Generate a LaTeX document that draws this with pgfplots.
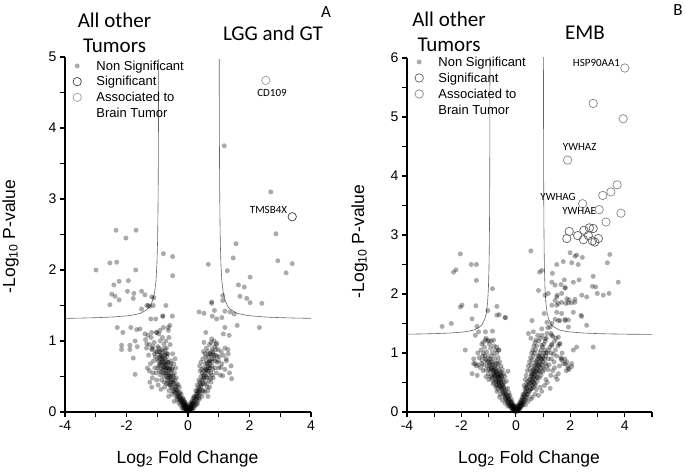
\documentclass[border=0pt]{standalone}
\usepackage{pgfplots}
\pgfplotsset{compat=1.18}
\usepackage{fontspec}
\setmainfont{Liberation Sans}
\newfontfamily\calib{Carlito}
\pgfplotsset{
  legend image code/.code={\path (-5pt,0pt) (5pt,0pt); \draw[#1] plot coordinates {(0pt,0pt)};},
  volc/.style={
    scale only axis, anchor=south west,
    axis x line*=bottom, axis y line*=left,
    axis line style={line width=1.1pt, black},
    tick style={line width=1.1pt, black},
    tick align=outside, major tick length=5pt,
    ticklabel style={font=\fontsize{14}{16}\selectfont},
    /pgf/number format/assume math mode=true,
    legend style={draw=none, fill=none, inner sep=0pt, outer sep=0pt, anchor=north west,
      font=\fontsize{13}{15.7}\selectfont,
      nodes={inner sep=0pt, text height=10pt, text depth=1.5pt},
      row sep=4.2pt, column sep=14pt},
    legend cell align=left,
  },
  nsig/.style={only marks, mark=*, mark size=2.5pt, mark options={draw opacity=0, line width=0pt, fill=black, fill opacity=0.33}},
  sig/.style={only marks, mark=o, mark size=4.2pt, color=black!75, mark options={line width=0.7pt}},
  sigB/.style={only marks, mark=o, mark size=4.2pt, color=black!62, mark options={line width=0.7pt}},
  assoc/.style={only marks, mark=o, mark size=4.2pt, color=black!38, mark options={line width=0.7pt}},
  assocB/.style={only marks, mark=o, mark size=4.2pt, color=black!48, mark options={line width=0.7pt}},
  thr/.style={forget plot, black!60, line width=0.6pt},
}
\begin{document}
\begin{tikzpicture}
\path[use as bounding box] (0pt,0pt) rectangle (685pt,471pt);
% ================= Panel A =================
\begin{axis}[volc, at={(65pt,59pt)}, width=246pt, height=355pt,
  xmin=-4, xmax=4, ymin=0, ymax=5,
  xtick={-4,-3,-2,-1,0,1,2,3,4}, xticklabels={-4,,-2,,0,,2,,4},
  ytick={0,0.5,1,1.5,2,2.5,3,3.5,4,4.5,5}, yticklabels={0,,1,,2,,3,,4,,5},
  legend style={at={(0.0285,0.991)}}]
\addplot[thr] coordinates {(1.015,4.97)(1.02,4.05)(1.025,3.50)(1.03,3.13)(1.04,2.68)(1.05,2.40)(1.07,2.09)(1.1,1.85)(1.15,1.67)(1.2,1.58)(1.3,1.48)(1.4,1.44)(1.6,1.39)(1.8,1.37)(2.0,1.356)(2.5,1.338)(3.0,1.329)(3.5,1.323)(4.0,1.319)};
\addplot[thr] coordinates {(-0.955,4.97)(-0.96,4.05)(-0.965,3.50)(-0.97,3.13)(-0.98,2.68)(-0.99,2.40)(-1.01,2.09)(-1.04,1.85)(-1.09,1.67)(-1.14,1.58)(-1.24,1.48)(-1.34,1.44)(-1.54,1.39)(-1.74,1.37)(-1.94,1.356)(-2.44,1.338)(-2.94,1.329)(-3.44,1.323)(-4.0,1.319)};
\addplot[nsig] coordinates {
(1.18,3.75)(2.69,3.10)(2.86,2.51)(-2.34,2.56)(-1.69,2.56)(-2.02,2.45)
(-2.99,2.00)(-2.54,2.10)(-2.32,2.11)(-1.70,2.00)(-2.41,1.79)(-2.24,1.84)(-1.94,1.85)(-2.48,1.66)(-2.37,1.63)(-2.54,1.51)(-2.24,1.58)(-1.97,1.70)(-1.76,1.67)(-1.78,1.60)(-1.51,1.70)(-1.40,1.65)(-1.18,1.62)(-1.13,1.50)(-1.34,1.50)(-1.29,1.50)(-1.11,1.61)(-1.51,1.45)(-1.24,1.49)
(-0.80,2.23)(-0.50,2.19)(-0.50,1.92)(-0.72,1.50)(-0.82,1.35)(-1.21,1.31)(-1.05,1.31)(-0.51,1.35)(-2.30,1.19)(-2.12,1.12)(-1.86,1.19)(-1.67,1.16)(-1.56,1.17)(-1.72,1.00)(-2.16,0.94)(-2.16,0.88)(-1.89,0.94)(-1.89,0.88)(-1.65,0.92)(-1.78,0.76)(-1.72,0.53)(-1.34,0.96)(-1.40,1.10)(-1.18,1.12)(-1.02,1.12)(-1.16,0.89)(-0.91,1.15)(-0.80,1.19)(-0.59,1.22)(-0.64,1.15)(-0.64,1.19)(-0.82,1.35)
(0.66,2.08)(1.28,1.99)(1.47,2.17)(1.56,2.37)(2.02,1.90)(1.64,1.79)(1.83,1.76)(1.69,1.63)(1.91,1.60)(2.02,1.54)(2.40,1.53)(1.13,1.64)(1.13,1.57)(1.37,1.41)(0.77,1.55)(0.77,1.53)(0.36,1.41)(0.52,1.39)(0.86,1.43)(0.79,1.35)(0.93,1.31)(1.10,1.33)(1.20,1.42)(1.60,1.22)(2.32,1.19)(1.20,1.19)(1.15,1.10)(1.34,1.08)(0.58,1.12)(0.77,1.03)(0.52,0.98)(2.92,2.13)(3.19,1.96)(3.39,2.09)(1.50,1.38)(0.93,0.97)(1.20,0.90)(1.31,0.82)(1.40,0.65)(1.13,0.51)(0.99,0.72)(1.24,0.75)(1.07,0.63)
(-0.02,0.01)(-0.05,0.03)(-0.08,0.05)(-0.1,0.02)(-0.12,0.08)(-0.15,0.04)(-0.06,0.1)(-0.18,0.12)(-0.2,0.06)(-0.22,0.15)(-0.25,0.1)(-0.14,0.18)(-0.28,0.2)(-0.3,0.13)(-0.33,0.24)(-0.26,0.28)(-0.35,0.17)(-0.38,0.3)(-0.4,0.22)(-0.42,0.35)(-0.36,0.4)(-0.45,0.28)(-0.48,0.42)(-0.5,0.33)(-0.47,0.5)(-0.52,0.25)(-0.55,0.45)(-0.58,0.38)(-0.6,0.55)(-0.53,0.6)(-0.62,0.3)(-0.65,0.48)(-0.68,0.62)(-0.7,0.4)(-0.72,0.55)(-0.66,0.7)(-0.75,0.68)(-0.78,0.5)(-0.8,0.75)(-0.74,0.82)(-0.82,0.6)(-0.85,0.88)(-0.88,0.7)(-0.9,0.52)(-0.93,0.8)(-0.95,0.65)(-0.98,0.92)(-1.0,0.75)(-1.02,0.45)(-1.05,0.85)(-1.08,0.62)(-1.1,0.98)(-1.12,0.72)(-1.15,0.55)(-1.18,0.88)(-1.2,1.05)(-1.22,0.68)(-1.25,0.95)(-1.28,0.8)(-1.3,1.08)(-1.32,0.62)(-1.35,0.9)(-1.38,1.02)(-1.24,0.42)(-1.18,0.35)(-0.97,0.38)(-0.88,0.32)(-0.63,0.22)(-0.45,0.15)(-0.56,0.72)(-0.5,0.82)(-0.58,0.95)(-0.62,1.05)(-0.7,0.9)(-0.72,1.0)(-0.78,0.95)(-0.83,1.05)(-0.9,1.0)(-0.95,1.1)(-1.02,1.12)(-0.68,0.78)(-0.86,0.45)(-0.93,0.58)(-1.04,0.55)(-0.76,0.35)(-0.64,0.62)(-0.81,0.85)(-0.7,0.72)(-0.73,0.6)(-0.61,0.45)(-0.44,0.55)(-0.4,0.62)(-0.42,0.75)(-0.46,0.68)(-0.38,0.48)(-0.32,0.38)(-0.28,0.35)(-0.22,0.25)(-0.18,0.2)(-0.1,0.14)(-0.07,0.06)(-0.03,0.04)(-0.04,0.02)(-0.09,0.09)(-0.13,0.11)(-0.16,0.07)(-0.24,0.18)(-0.29,0.26)(-0.34,0.31)(-0.39,0.36)(-0.43,0.45)(-0.49,0.52)(-0.54,0.58)(-0.59,0.65)(-0.64,0.7)(-0.69,0.82)(-0.74,0.88)(-0.79,0.64)(-0.84,0.7)(-0.89,0.78)(-0.94,0.85)(-0.99,0.62)(-1.06,0.78)(-1.14,0.92)(-1.16,0.48)(-1.26,0.58)(-0.52,0.4)(-0.57,0.5)(-0.67,0.55)(-0.77,0.42)(-0.87,0.56)(-0.92,0.68)(-0.96,0.72)(-1.09,0.82)(-0.6,0.38)(-0.65,0.4)(-0.7,0.5)(-0.8,0.55)(-0.85,0.62)(-0.9,0.66)(-0.83,0.78)(-0.75,0.75)(-0.55,0.35)(-0.48,0.3)(-0.41,0.27)(-0.35,0.22)(-0.3,0.18)(-0.25,0.16)(-0.2,0.13)(-0.15,0.1)(-0.11,0.06)(-0.06,0.04)(-0.01,0.02)(-0.03,0.08)(-0.08,0.12)(-0.12,0.15)(-0.04,0.07)(-0.07,0.02)
(-0.55,0.5)(-0.6,0.6)(-0.65,0.6)(-0.7,0.62)(-0.75,0.55)(-0.8,0.68)(-0.85,0.75)(-0.9,0.85)(-0.62,0.52)(-0.68,0.45)(-0.72,0.68)(-0.78,0.62)(-0.82,0.72)(-0.88,0.8)(-0.5,0.45)(-0.45,0.4)(-0.4,0.32)(-0.35,0.28)(-0.3,0.22)(-0.25,0.22)(-0.2,0.18)(-0.16,0.14)(-0.12,0.1)(-0.08,0.08)(-0.05,0.05)(-0.02,0.03)(-0.06,0.07)(-0.1,0.11)(-0.14,0.09)(-0.18,0.16)(-0.57,0.42)(-0.63,0.5)(-0.73,0.66)(-0.95,0.9)(-1.0,0.85)(-0.92,0.75)(-0.76,0.8)(-0.66,0.82)(-0.56,0.68)(-0.51,0.62)
(0.02,0.01)(0.04,0.03)(0.06,0.06)(0.08,0.02)(0.1,0.08)(0.12,0.05)(0.14,0.12)(0.16,0.08)(0.18,0.15)(0.2,0.1)(0.22,0.2)(0.24,0.14)(0.26,0.25)(0.28,0.18)(0.3,0.3)(0.32,0.22)(0.34,0.35)(0.36,0.27)(0.38,0.42)(0.4,0.32)(0.42,0.5)(0.44,0.38)(0.46,0.55)(0.48,0.3)(0.5,0.45)(0.52,0.62)(0.54,0.4)(0.56,0.68)(0.58,0.5)(0.6,0.72)(0.62,0.35)(0.64,0.58)(0.66,0.78)(0.68,0.45)(0.7,0.65)(0.72,0.82)(0.74,0.55)(0.76,0.7)(0.78,0.88)(0.8,0.6)(0.82,0.48)(0.84,0.75)(0.86,0.92)(0.88,0.62)(0.9,0.8)(0.92,0.55)(0.95,0.7)(0.98,0.88)(1.0,0.62)(1.02,0.78)(1.05,0.52)(1.08,0.85)(1.1,0.68)(1.15,0.8)(1.2,0.6)(1.25,0.72)(1.3,0.88)(1.35,0.55)(1.42,0.47)(0.3,0.15)(0.35,0.2)(0.4,0.25)(0.45,0.22)(0.5,0.3)(0.55,0.28)(0.6,0.4)(0.65,0.3)(0.7,0.35)(0.75,0.42)(0.65,0.22)(0.45,0.6)(0.4,0.58)(0.38,0.65)(0.42,0.7)(0.48,0.75)(0.5,0.85)(0.55,0.82)(0.6,0.9)(0.58,0.78)(0.64,0.85)(0.7,0.95)(0.75,0.98)(0.85,1.0)(0.72,0.62)(0.68,0.7)(0.78,0.75)(0.82,0.82)(0.88,0.72)(0.92,0.95)(0.57,0.6)(0.52,0.52)(0.62,0.48)(0.66,0.52)(0.74,0.48)(0.79,0.52)(0.35,0.45)(0.3,0.38)(0.25,0.3)(0.2,0.22)(0.17,0.2)(0.13,0.16)(0.09,0.1)(0.05,0.07)(0.03,0.04)(0.11,0.03)(0.15,0.04)(0.19,0.06)(0.23,0.09)(0.27,0.1)(0.31,0.12)(0.37,0.18)(0.01,0.05)(0.05,0.1)(0.08,0.13)(0.03,0.02)(0.07,0.04)
(0.6,0.6)(0.65,0.65)(0.7,0.72)(0.75,0.8)(0.8,0.85)(0.55,0.55)(0.5,0.5)(0.45,0.45)(0.4,0.4)(0.35,0.32)(0.3,0.25)(0.25,0.2)(0.2,0.16)(0.15,0.12)(0.1,0.06)(0.06,0.04)(0.02,0.03)(0.08,0.08)(0.12,0.09)(0.16,0.13)(0.62,0.68)(0.68,0.58)(0.72,0.72)(0.78,0.65)(0.85,0.8)(0.9,0.88)(0.95,0.78)(0.58,0.58)(0.52,0.48)(0.48,0.4)(0.42,0.36)(0.38,0.3)(0.33,0.28)(0.28,0.22)(0.7,0.82)(0.66,0.62)
};
\addlegendentry{Non Significant}
\addplot[sig] coordinates {(3.39,2.75)};
\addlegendentry{Significant}
\addplot[assoc] coordinates {(2.53,4.67)};
\addlegendentry{Associated to}
\addlegendimage{empty legend}
\addlegendentry{Brain Tumor}
\end{axis}
% ================= Panel B =================
\begin{axis}[volc, at={(407pt,59pt)}, width=245pt, height=354pt,
  xmin=-4, xmax=5, ymin=0, ymax=6,
  xtick={-4,-3,-2,-1,0,1,2,3,4,5}, xticklabels={-4,,-2,,0,,2,,4,},
  ytick={0,0.5,1,1.5,2,2.5,3,3.5,4,4.5,5,5.5,6}, yticklabels={0,,1,,2,,3,,4,,5,,6},
  legend style={at={(0.0286,1.005)}, row sep=4.5pt}]
\addplot[thr] coordinates {(1.011,6.30)(1.0125,5.70)(1.015,4.97)(1.02,4.05)(1.025,3.50)(1.03,3.13)(1.04,2.68)(1.05,2.40)(1.07,2.09)(1.1,1.85)(1.15,1.67)(1.2,1.58)(1.3,1.48)(1.4,1.44)(1.6,1.39)(1.8,1.37)(2.0,1.356)(2.5,1.338)(3.0,1.329)(3.5,1.323)(4.0,1.319)(4.5,1.317)(5.0,1.315)};
\addplot[thr] coordinates {(-0.951,6.30)(-0.9525,5.70)(-0.955,4.97)(-0.96,4.05)(-0.965,3.50)(-0.97,3.13)(-0.98,2.68)(-0.99,2.40)(-1.01,2.09)(-1.04,1.85)(-1.09,1.67)(-1.14,1.58)(-1.24,1.48)(-1.34,1.44)(-1.54,1.39)(-1.74,1.37)(-1.94,1.356)(-2.44,1.338)(-2.94,1.329)(-3.44,1.323)(-4.0,1.319)};
\addplot[nsig] coordinates {
(0.55,2.73)(0.95,2.40)(0.87,2.37)(0.83,2.06)(1.07,1.98)(1.99,2.70)(2.17,2.64)(2.23,2.66)(2.44,2.62)(2.05,2.53)(2.29,2.50)(1.74,2.55)(1.50,2.50)(3.45,2.67)(3.36,2.53)(3.76,2.20)(2.84,2.30)(2.81,2.13)(2.93,2.12)(2.32,2.24)(2.11,2.20)(1.78,2.24)(1.34,2.35)(1.32,2.20)(1.44,2.15)(1.66,2.16)(1.81,2.11)(1.81,2.10)(1.68,2.01)(1.19,2.01)(1.52,1.98)(1.44,1.89)(1.95,1.90)(2.17,1.91)(2.42,1.98)(2.60,1.95)(2.99,2.01)(3.21,1.98)(3.42,2.01)(1.32,1.81)(1.50,1.81)(1.68,1.86)(1.83,1.84)(2.05,1.85)(2.11,1.69)(2.42,1.62)(1.68,1.67)(1.56,1.55)(1.81,1.55)(1.93,1.56)(2.60,1.47)(1.93,1.44)(2.84,1.10)(2.23,1.10)(2.05,0.82)(1.93,0.74)(1.68,0.90)(1.87,0.85)(1.26,1.44)(1.14,1.52)(1.29,1.33)(1.07,1.24)(0.95,1.13)(1.32,1.13)
(1.50,1.95)(1.56,1.84)(1.87,1.92)(1.93,1.85)(2.17,1.86)(2.39,1.64)(1.50,1.69)(1.44,1.57)(1.62,1.55)(1.81,1.57)(1.04,1.67)(1.17,1.43)(1.32,1.50)(0.59,1.55)(0.46,1.33)(0.64,1.36)(0.95,1.41)(1.14,1.33)(1.32,1.30)(1.56,1.27)(1.62,1.16)(1.68,0.88)(1.81,0.82)(2.11,1.05)(2.05,0.77)(-0.39,1.60)(-0.29,0.69)
(-2.04,2.68)(-2.29,2.37)(-2.20,2.41)(-1.64,2.50)(-1.45,2.50)(-1.45,2.23)(-0.86,2.09)(-2.04,1.78)(-1.98,1.81)(-1.47,1.80)(-1.03,1.72)(-0.70,1.79)(-0.70,1.64)(-0.61,1.65)(-0.39,1.60)(-1.61,1.58)(-2.71,1.45)(-2.37,1.50)(-1.43,1.45)(-1.86,1.05)(-1.55,0.82)(-1.61,0.65)(-1.25,0.82)(-1.37,1.36)(-1.49,1.30)(-1.12,1.36)(-0.86,1.37)(-1.00,1.22)(-0.82,1.22)(-0.70,1.10)(-1.12,1.22)(-0.64,1.05)
(-0.02,0.01)(-0.05,0.04)(-0.08,0.02)(-0.1,0.08)(-0.12,0.05)(-0.15,0.12)(-0.18,0.07)(-0.2,0.16)(-0.22,0.1)(-0.25,0.2)(-0.28,0.14)(-0.3,0.25)(-0.32,0.18)(-0.35,0.3)(-0.38,0.22)(-0.4,0.35)(-0.42,0.27)(-0.45,0.42)(-0.48,0.32)(-0.5,0.48)(-0.52,0.38)(-0.55,0.55)(-0.58,0.3)(-0.6,0.45)(-0.62,0.6)(-0.65,0.38)(-0.68,0.52)(-0.7,0.68)(-0.72,0.45)(-0.75,0.6)(-0.78,0.75)(-0.8,0.5)(-0.82,0.65)(-0.85,0.82)(-0.88,0.55)(-0.9,0.72)(-0.92,0.9)(-0.95,0.6)(-0.98,0.78)(-1.0,0.95)(-1.02,0.65)(-1.05,0.85)(-1.08,1.02)(-1.1,0.72)(-1.12,0.9)(-1.15,1.1)(-1.18,0.8)(-1.2,1.18)(-1.22,0.95)(-1.25,0.88)(-1.28,1.05)(-1.3,0.75)(-1.35,0.92)(-1.4,1.0)(-1.45,0.78)(-1.5,0.82)(-1.55,0.9)(-0.35,0.52)(-0.4,0.6)(-0.45,0.65)(-0.5,0.72)(-0.55,0.78)(-0.6,0.85)(-0.65,0.92)(-0.7,1.0)(-0.75,1.05)(-0.8,1.12)(-0.62,0.7)(-0.67,0.75)(-0.72,0.82)(-0.77,0.88)(-0.82,0.95)(-0.87,1.0)(-0.93,1.08)(-0.97,1.15)(-1.03,1.2)(-0.58,0.62)(-0.52,0.58)(-0.48,0.55)(-0.43,0.5)(-0.3,0.4)(-0.26,0.33)(-0.22,0.28)(-0.17,0.22)(-0.13,0.17)(-0.07,0.1)(-0.04,0.06)(-0.03,0.02)(-0.06,0.03)(-0.11,0.04)(-0.14,0.06)(-0.19,0.1)(-0.24,0.12)(-0.29,0.16)(-0.34,0.2)(-0.39,0.25)(-0.44,0.3)(-0.49,0.35)(-0.54,0.4)(-0.59,0.43)(-0.64,0.48)(-0.69,0.55)(-0.74,0.52)(-0.79,0.62)(-0.84,0.7)(-0.89,0.62)(-0.94,0.7)(-0.99,0.72)(-1.04,0.78)(-1.09,0.88)(-1.14,0.95)(-1.19,1.0)(-0.74,0.42)(-0.84,0.48)(-0.7,0.35)(-0.6,0.25)(-0.5,0.2)(-0.4,0.15)(-0.3,0.1)(-0.55,0.65)(-0.65,0.65)(-0.75,0.72)(-0.85,0.58)(-0.95,0.82)(-0.66,0.58)(-0.57,0.52)(-0.47,0.45)(-0.37,0.38)(-0.27,0.27)(-1.0,0.55)(-1.1,0.6)(-1.2,0.7)(-1.38,0.8)(-1.42,0.62)(-1.25,1.15)(-1.1,1.25)(-0.9,1.2)(-0.62,1.05)(-0.01,0.04)(-0.04,0.09)(-0.09,0.12)
(-0.55,0.5)(-0.6,0.6)(-0.65,0.6)(-0.7,0.62)(-0.75,0.55)(-0.8,0.68)(-0.85,0.75)(-0.9,0.85)(-0.62,0.52)(-0.68,0.45)(-0.72,0.68)(-0.78,0.62)(-0.82,0.72)(-0.88,0.8)(-0.5,0.45)(-0.45,0.4)(-0.4,0.32)(-0.35,0.28)(-0.3,0.22)(-0.25,0.22)(-0.2,0.18)(-0.16,0.14)(-0.12,0.1)(-0.08,0.08)(-0.05,0.05)(-0.02,0.03)(-0.06,0.07)(-0.1,0.11)(-0.14,0.09)(-0.18,0.16)(-0.57,0.42)(-0.63,0.5)(-0.73,0.66)(-0.95,0.9)(-1.0,0.85)(-0.92,0.75)(-0.76,0.8)(-0.66,0.82)(-0.56,0.68)(-0.51,0.62)
(0.02,0.01)(0.05,0.03)(0.08,0.06)(0.1,0.02)(0.12,0.1)(0.15,0.06)(0.18,0.14)(0.2,0.09)(0.22,0.18)(0.25,0.12)(0.28,0.24)(0.3,0.16)(0.32,0.3)(0.35,0.2)(0.38,0.35)(0.4,0.25)(0.42,0.42)(0.45,0.3)(0.48,0.48)(0.5,0.35)(0.52,0.55)(0.55,0.4)(0.58,0.62)(0.6,0.45)(0.62,0.7)(0.65,0.5)(0.68,0.75)(0.7,0.55)(0.72,0.82)(0.75,0.6)(0.78,0.88)(0.8,0.65)(0.82,0.95)(0.85,0.7)(0.88,1.0)(0.9,0.75)(0.92,1.05)(0.95,0.8)(0.98,1.1)(1.0,0.85)(1.02,1.15)(1.05,0.9)(1.08,1.2)(1.1,0.95)(1.12,1.25)(1.15,1.0)(1.18,0.72)(1.2,1.05)(1.22,0.8)(1.25,1.1)(1.28,0.62)(1.3,0.9)(1.32,1.15)(1.35,0.7)(1.38,0.98)(1.4,0.85)(1.45,1.05)(1.5,0.95)(1.55,1.12)(1.6,0.78)(1.65,0.92)(1.7,1.0)(1.26,0.4)(0.83,0.28)(0.95,0.35)(1.05,0.45)(1.1,0.55)(1.15,0.5)(0.9,0.42)(0.75,0.38)(0.7,0.3)(0.6,0.25)(0.55,0.22)(0.45,0.18)(0.35,0.12)(0.3,0.45)(0.34,0.55)(0.38,0.62)(0.42,0.7)(0.46,0.78)(0.5,0.85)(0.54,0.92)(0.58,1.0)(0.62,1.05)(0.66,1.12)(0.7,1.18)(0.55,1.25)(0.74,1.22)(0.8,1.3)(0.52,0.72)(0.56,0.8)(0.6,0.88)(0.64,0.95)(0.68,1.0)(0.72,1.05)(0.76,1.12)(0.84,1.2)(0.9,1.25)(0.96,1.3)(0.57,0.65)(0.63,0.6)(0.67,0.65)(0.73,0.7)(0.77,0.75)(0.83,0.8)(0.87,0.85)(0.93,0.9)(0.97,0.95)(1.03,1.0)(1.07,1.05)(0.58,0.5)(0.64,0.42)(0.72,0.45)(0.78,0.52)(0.86,0.58)(0.92,0.62)(0.98,0.68)(1.04,0.72)(1.12,0.78)(0.44,0.52)(0.4,0.48)(0.36,0.42)(0.33,0.38)(0.26,0.3)(0.23,0.25)(0.19,0.2)(0.16,0.17)(0.13,0.14)(0.09,0.1)(0.06,0.07)(0.03,0.04)(0.04,0.02)(0.07,0.03)(0.11,0.05)(0.14,0.07)(0.17,0.09)(0.21,0.11)(0.24,0.14)(0.27,0.17)(0.31,0.2)(0.37,0.25)(0.41,0.3)(0.47,0.35)(0.53,0.38)(0.59,0.4)(0.69,0.48)(0.79,0.58)(0.89,0.68)(0.99,0.75)(1.09,0.82)(1.19,0.9)(1.29,1.0)(1.42,1.2)(1.48,1.25)(1.36,1.28)(1.6,1.15)(1.75,0.82)(1.8,0.9)(1.95,0.72)(1.9,0.78)(1.85,0.7)(1.52,0.55)(1.46,0.6)(1.42,0.75)(1.56,0.65)(0.01,0.05)(0.04,0.09)(0.08,0.12)
(0.5,0.55)(0.55,0.6)(0.6,0.65)(0.65,0.72)(0.7,0.78)(0.75,0.85)(0.8,0.9)(0.85,0.95)(0.45,0.45)(0.4,0.4)(0.35,0.33)(0.3,0.28)(0.25,0.22)(0.2,0.15)(0.15,0.11)(0.1,0.07)(0.05,0.05)(0.02,0.02)(0.6,0.55)(0.7,0.62)(0.8,0.72)(0.9,0.82)(1.0,0.92)(1.1,1.0)(0.65,0.58)(0.75,0.68)(0.85,0.78)(0.95,0.88)(0.55,0.48)(0.62,0.52)(0.68,0.68)(0.78,0.8)(0.88,0.92)
};
\addlegendentry{Non Significant}
\addplot[sigB] coordinates {(1.96,3.06)(2.27,2.99)(2.50,3.08)(2.70,3.12)(2.84,3.11)(1.87,2.94)(2.48,2.92)(2.81,2.90)(2.90,2.88)(3.03,2.94)(2.66,2.99)};
\addlegendentry{Significant}
\addplot[assocB] coordinates {(4.00,5.83)(2.84,5.23)(3.94,4.97)(1.90,4.27)(3.72,3.85)(3.49,3.73)(3.19,3.67)(2.45,3.53)(3.06,3.43)(3.86,3.37)(3.31,3.22)};
\addlegendentry{Associated to}
\addlegendimage{empty legend}
\addlegendentry{Brain Tumor}
\end{axis}
% ================= texts =================
\node[align=center, font=\calib\fontsize{21}{25}\selectfont] at (114.5pt,438.5pt) {All other\\Tumors};
\node[font=\calib\fontsize{21}{25}\selectfont] at (273pt,438pt) {LGG and GT};
\node[font=\calib\fontsize{17}{20}\selectfont] at (326pt,459pt) {A};
\node[font=\calib\fontsize{11}{13}\selectfont] at (272pt,378pt) {CD109};
\node[font=\calib\fontsize{11}{13}\selectfont] at (268.5pt,261pt) {TMSB4X};
\node[align=center, font=\calib\fontsize{21}{25}\selectfont] at (449pt,439pt) {All other\\Tumors};
\node[font=\calib\fontsize{21}{25}\selectfont] at (585pt,438pt) {EMB};
\node[font=\calib\fontsize{17}{20}\selectfont] at (678pt,461pt) {B};
\node[font=\calib\fontsize{11}{13}\selectfont] at (596.5pt,407.7pt) {HSP90AA1};
\node[font=\calib\fontsize{11}{13}\selectfont] at (579.7pt,324.3pt) {YWHAZ};
\node[font=\calib\fontsize{11}{13}\selectfont] at (558pt,274.3pt) {YWHAG};
\node[font=\calib\fontsize{11}{13}\selectfont] at (579.2pt,260.3pt) {YWHAE};
\node[anchor=base, font=\fontsize{17.5}{20}\selectfont, inner sep=0pt] at (187.5pt,7.7pt) {Log\textsubscript{2} Fold Change};
\node[anchor=base, font=\fontsize{17.5}{20}\selectfont, inner sep=0pt] at (529pt,7.7pt) {Log\textsubscript{2} Fold Change};
\node[anchor=base, rotate=90, font=\fontsize{17.5}{20}\selectfont, inner sep=0pt] at (15pt,234.5pt) {-Log\textsubscript{10} P-value};
\node[anchor=base, rotate=90, font=\fontsize{17.5}{20}\selectfont, inner sep=0pt] at (364pt,229.5pt) {-Log\textsubscript{10} P-value};
\end{tikzpicture}
\end{document}
